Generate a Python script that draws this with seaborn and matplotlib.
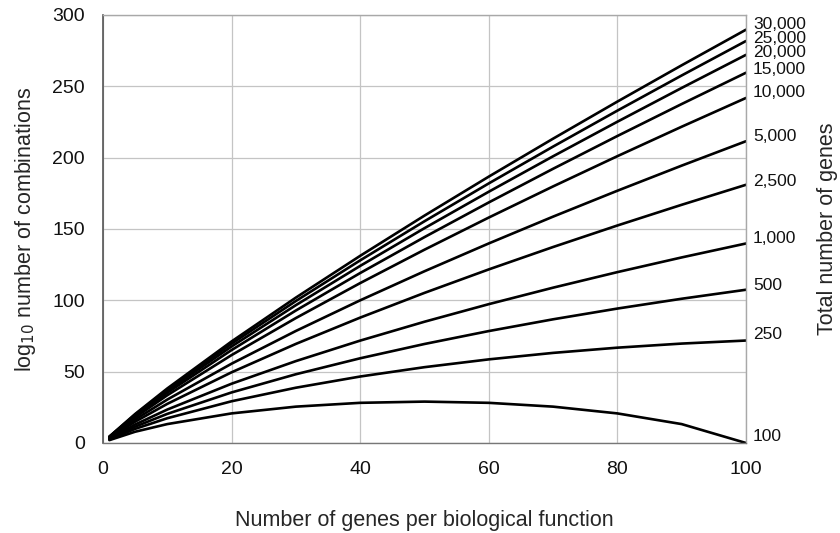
import matplotlib
matplotlib.use("Agg")
import matplotlib.pyplot as plt
import seaborn as sns
import pandas as pd

genes_per_function = [1, 5, 10, 20, 30, 40, 50, 60, 70, 80, 90, 100]

n100 = [2.00, 7.88, 13.24, 20.73, 25.47, 28.14, 29.00, 28.14, 25.47, 20.73, 13.24, 0.00]
n250 = [2.40, 9.89, 17.34, 29.24, 38.73, 46.58, 53.13, 58.60, 63.14, 66.80, 69.67, 71.80]
n500 = [2.70, 11.41, 20.39, 35.43, 48.17, 59.36, 69.38, 78.44, 86.68, 94.21, 101.09, 107.40]
n1000 = [3.00, 12.92, 23.42, 41.53, 57.39, 71.75, 84.98, 97.30, 108.85, 119.75, 130.05, 139.82]
n2500 = [3.40, 14.91, 27.41, 49.54, 69.44, 87.87, 105.20, 121.65, 137.35, 152.43, 166.94, 180.96]
n5000 = [3.70, 16.41, 30.43, 55.58, 78.51, 99.98, 120.36, 139.86, 158.64, 176.79, 194.39, 211.50]
n10000 = [4.00, 17.92, 33.44, 61.61, 87.56, 112.06, 135.47, 158.00, 179.82, 201.01, 221.66, 241.82]
n15000 = [4.18, 18.80, 35.20, 65.13, 92.85, 119.11, 144.29, 168.59, 192.18, 215.15, 237.56, 259.50]
n20000 = [4.30, 19.43, 36.45, 67.63, 96.60, 124.11, 150.55, 176.10, 200.94, 225.16, 248.84, 272.03]
n25000 = [4.40, 19.91, 37.42, 69.57, 99.51, 127.99, 155.40, 181.93, 207.73, 232.93, 257.58, 281.74]
n30000 = [4.48, 20.31, 38.21, 71.16, 101.89, 131.16, 159.36, 186.68, 213.28, 239.27, 264.71, 289.67]

total_genes_labels = ["100", "250", "500", "1,000", "2,500", "5,000", "10,000",
                      "15,000", "20,000", "25,000", "30,000"]
series = [n100, n250, n500, n1000, n2500, n5000, n10000, n15000, n20000, n25000, n30000]

# label vertical nudges (style, in data units)
label_nudge = [4.4, 3.9, 2.8, 3.2, 2.2, 3.1, 4.0, 2.4, 1.8, 1.6, 3.8]

rows = []
for lab, vals in zip(total_genes_labels, series):
    for k, v in zip(genes_per_function, vals):
        rows.append({"k": k, "v": v, "N": lab})
df = pd.DataFrame(rows)

sns.set_style("white")
plt.rcParams['font.family'] = ['Liberation Sans', 'DejaVu Sans']

fig = plt.figure(figsize=(8.4, 5.33), dpi=100)
ax = fig.add_axes([0.1226, 0.1689, 0.888 - 0.1226, 0.9719 - 0.1689])

sns.lineplot(data=df, x="k", y="v", hue="N", palette=["black"] * len(series),
             linewidth=1.9, legend=False, ax=ax, sort=True)

ax.set_xlim(0, 100)
ax.set_ylim(0, 300)
ax.set_xticks([0, 20, 40, 60, 80, 100])
ax.set_yticks([0, 50, 100, 150, 200, 250, 300])
ax.grid(True, color="#c4c4c4", linewidth=0.9)
ax.set_axisbelow(True)
for side in ["top", "right", "bottom"]:
    ax.spines[side].set_color("#a8a8a8")
    ax.spines[side].set_linewidth(1.0)
ax.spines["left"].set_color("#555555")
ax.spines["left"].set_linewidth(1.2)
ax.spines["bottom"].set_color("#777777")
ax.tick_params(axis="both", which="both", direction="out", length=6, width=0.9,
               color="#9a9a9a", labelsize=14, labelcolor="#111111", pad=7)
ax.tick_params(axis="x", pad=7)

ax.set_xlabel("Number of genes per biological function", fontsize=15.5, labelpad=23)
ax.set_ylabel(r"log$_{10}$ number of combinations", fontsize=15.5, labelpad=10)

for lab, vals, nd in zip(total_genes_labels, series, label_nudge):
    ax.annotate(lab, xy=(genes_per_function[-1], vals[-1] + nd), xytext=(5, 0),
                textcoords="offset points", va="center", ha="left", fontsize=12.5,
                color="#111111", annotation_clip=False)

fig.text(0.985, 0.57, "Total number of genes", rotation=90, va="center", ha="center",
         fontsize=15.5)

fig.savefig("out.png", dpi=100)
